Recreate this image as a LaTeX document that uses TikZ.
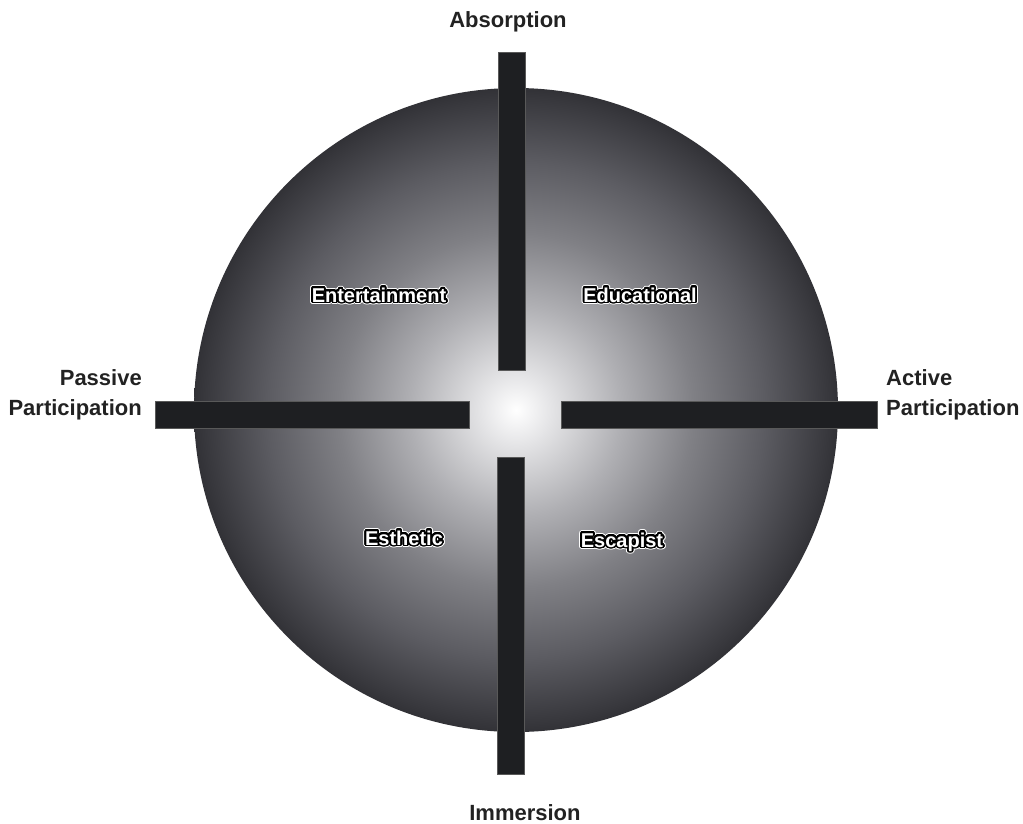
\documentclass[tikz,border=0pt]{standalone}
\usepackage{fontspec}
\setmainfont{Liberation Sans}
\usepackage[copies]{contour}
\contournumber{32}
\definecolor{barcol}{HTML}{1E1F22}
\definecolor{ink}{HTML}{222222}
\definecolor{sA}{RGB}{228,228,230}
\definecolor{sB}{RGB}{175,175,179}
\definecolor{sC}{RGB}{128,128,133}
\definecolor{sD}{RGB}{92,92,98}
\definecolor{sE}{RGB}{56,56,61}
\definecolor{sF}{RGB}{30,30,34}
\pgfdeclareradialshading{sphereshade}{\pgfpoint{0bp}{0bp}}{color(0bp)=(white); color(2.75bp)=(sA); color(8.25bp)=(sB); color(13.75bp)=(sC); color(19.25bp)=(sD); color(24.2bp)=(sE); color(27.5bp)=(sF); color(50bp)=(sF)}
\newcommand\halotext[1]{\contourlength{2.8pt}\contour{white}{\textcolor{black}{#1}}}
\newcommand\rimtext[1]{\contourlength{1.7pt}\contour{black}{\textcolor{white}{#1}}}
\newcommand\quadtext[1]{\rlap{\halotext{#1}}\rimtext{#1}}
\tikzset{
  barbox/.style={rectangle, fill=barcol, draw=black!65, line width=0.5pt, inner sep=0, outer sep=0},
  axislabel/.style={font=\fontsize{22}{30}\selectfont\bfseries, text=ink, inner sep=0},
  quadlabel/.style={font=\fontsize{20}{22}\selectfont\bfseries, inner sep=0, anchor=base},
}
\begin{document}
\begin{tikzpicture}[x=1pt,y=-1pt]
\useasboundingbox (0,0) rectangle (1023,823);
\node[circle, minimum size=644pt, inner sep=0, shading=sphereshade] (sphere) at (516,410) {};
% bars
\node[barbox, minimum width=27pt, minimum height=318pt] (barN) at (511.5,211) {};
\node[barbox, minimum width=27pt, minimum height=317pt] (barS) at (511,615.5) {};
\node[barbox, minimum width=314pt, minimum height=27pt] (barW) at (312,414.5) {};
\node[barbox, minimum width=316pt, minimum height=27pt] (barE) at (719,414.5) {};
% axis labels
\node[axislabel, anchor=base] (absorption) at (508,27) {Absorption};
\node[axislabel, anchor=base] (immersion) at (525,820) {Immersion};
\node[axislabel, anchor=base east, align=right] (passive) at (142,415) {Passive\\Participation};
\node[axislabel, anchor=base west, align=left] (active) at (886,415) {Active\\Participation};
% quadrant labels
\node[quadlabel] (ent) at (379,302) {\quadtext{Entertainment}};
\node[quadlabel] (edu) at (640,302) {\quadtext{Educational}};
\node[quadlabel] (est) at (404,545) {\quadtext{Esthetic}};
\node[quadlabel] (esc) at (622,547) {\quadtext{Escapist}};
\end{tikzpicture}
\end{document}
